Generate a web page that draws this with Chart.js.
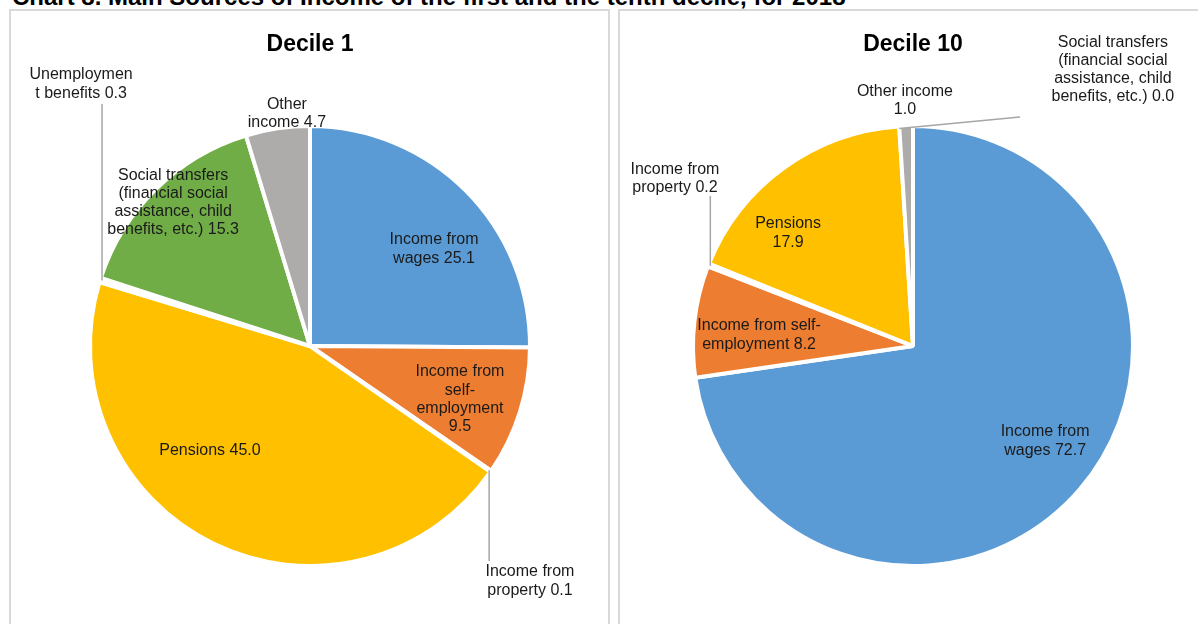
<!DOCTYPE html>
<html><head><meta charset="utf-8">
<script src="https://cdn.jsdelivr.net/npm/chart.js@4/dist/chart.umd.min.js"></script>
<style>
html,body{margin:0;padding:0;background:#fff;width:1198px;height:624px;overflow:hidden;font-family:"Liberation Sans",Arial,sans-serif;}
#title{position:absolute;left:12px;top:-15px;font-weight:bold;font-size:24px;line-height:24px;white-space:nowrap;color:#000}
.panel{position:absolute;border:2px solid #d9d9d9;box-sizing:border-box;}
#p1{left:9px;top:9px;width:601px;height:660px}
#p2{left:618px;top:9px;width:620px;height:660px}
canvas{position:absolute;top:0}
</style></head><body>
<div id="title">Chart 8. Main Sources of Income of the first and the tenth decile, for 2018</div>
<div class="panel" id="p1"></div><div class="panel" id="p2"></div>
<canvas id="c1" width="612" height="624" style="left:0"></canvas>
<canvas id="c2" width="586" height="624" style="left:612px"></canvas>
<script>
const categories = [
  'Income from wages',
  'Income from self-employment',
  'Income from property',
  'Pensions',
  'Unemployment benefits',
  'Social transfers (financial social assistance, child benefits, etc.)',
  'Other income'
];
const decile1 = [25.1, 9.5, 0.1, 45.0, 0.3, 15.3, 4.7];
const decile10 = [72.7, 8.2, 0.2, 17.9, null, 0.0, 1.0];
const chartTitles = ['Decile 1', 'Decile 10'];

const sliceColors = ['#5B9BD5', '#ED7D31', '#A5A5A5', '#FFC000', '#4472C4', '#70AD47', '#AEABAB'];
const FONT = '"Liberation Sans", Arial, sans-serif';

// label placement (in units of pie radius, relative to pie centre), wrap widths, leader lines
const styles = {
  c1: {
    title: chartTitles[0], titleY: 45,
    padding: {left: 8, right: 0, top: 68, bottom: 0},
    pos: [[0.569, -0.445], [0.688, 0.245], [1.009, 1.078], [-0.459, 0.482], [-1.050, -1.202], [-0.628, -0.658], [-0.106, -1.067]],
    wrap: [95, 95, 95, 120, 105, 135, 80],
    leaders: [null, null, {y: 0.986}, null, {y: -1.110}, null, null]
  },
  c2: {
    title: chartTitles[1], titleY: 45,
    padding: {left: 16, right: 0, top: 68, bottom: 0},
    pos: [[0.606, 0.436], [-0.706, -0.050], [-1.092, -0.768], [-0.573, -0.518], null, [0.917, -1.268], [-0.037, -1.126]],
    wrap: [95, 126, 95, 70, 105, 135, 100],
    leaders: [null, null, {y: -0.688}, null, null, {x: 0.491, y: -1.050}, null]
  }
};

function wrap(ctx, text, maxW) {
  const pieces = [];
  text.split(' ').forEach((w, wi) => {
    const sub = w.match(/[^-]+-?|-/g) || [w];
    sub.forEach((s, si) => pieces.push({s, sp: wi > 0 && si === 0}));
  });
  const lines = [];
  let cur = '';
  for (const p of pieces) {
    const cand = cur === '' ? p.s : cur + (p.sp ? ' ' : '') + p.s;
    if (ctx.measureText(cand).width <= maxW) { cur = cand; continue; }
    if (cur !== '') lines.push(cur);
    let s = p.s;
    cur = '';
    while (ctx.measureText(s).width > maxW && s.length > 1) {
      let k = s.length;
      while (k > 1 && ctx.measureText(s.slice(0, k)).width > maxW) k--;
      lines.push(s.slice(0, k));
      s = s.slice(k);
    }
    cur = s;
  }
  if (cur) lines.push(cur);
  return lines;
}

const labelPlugin = {
  id: 'sliceLabels',
  afterDatasetsDraw(chart) {
    const st = styles[chart.canvas.id];
    const ctx = chart.ctx;
    const meta = chart.getDatasetMeta(0);
    const ds = chart.data.datasets[0];
    const arcs = meta.data;
    if (!arcs.length) return;
    const cx = arcs[0].x, cy = arcs[0].y;
    const R = arcs[0].outerRadius - ds.borderWidth / 2;
    ctx.save();
    ctx.textAlign = 'center';
    ctx.textBaseline = 'middle';
    ctx.fillStyle = '#000';
    ctx.font = 'bold 23px ' + FONT;
    ctx.fillText(st.title, cx, st.titleY);
    ctx.font = '16px ' + FONT;
    ds.data.forEach((v, i) => {
      if (v === null || v === undefined) return;
      const p = st.pos[i];
      if (!p) return;
      const a = arcs[i];
      const L = st.leaders[i];
      if (L) {
        const mid = (a.startAngle + a.endAngle) / 2;
        const ax = cx + Math.cos(mid) * R, ay = cy + Math.sin(mid) * R;
        const ex = (L.x === undefined) ? ax : cx + L.x * R;
        const ey = cy + L.y * R;
        ctx.strokeStyle = '#a6a6a6';
        ctx.lineWidth = 1.5;
        ctx.beginPath();
        ctx.moveTo(ax, ay);
        ctx.lineTo(ex, ey);
        ctx.stroke();
      }
      ctx.fillStyle = '#1a1a1a';
      const text = chart.data.labels[i] + ' ' + v.toFixed(1);
      const lines = wrap(ctx, text, st.wrap[i]);
      const lx = cx + p[0] * R, ly = cy + p[1] * R;
      const lh = 18.3;
      lines.forEach((ln, k) => ctx.fillText(ln, lx, ly + (k - (lines.length - 1) / 2) * lh));
    });
    ctx.restore();
  }
};

function makeChart(id, values) {
  return new Chart(document.getElementById(id), {
    type: 'pie',
    data: {
      labels: categories,
      datasets: [{data: values, backgroundColor: sliceColors, borderColor: '#ffffff', borderWidth: 4}]
    },
    options: {
      responsive: false,
      animation: false,
      radius: 220,
      layout: {padding: styles[id].padding},
      plugins: {legend: {display: false}, tooltip: {enabled: false}}
    },
    plugins: [labelPlugin]
  });
}

makeChart('c1', decile1);
makeChart('c2', decile10);
</script>
</body></html>
